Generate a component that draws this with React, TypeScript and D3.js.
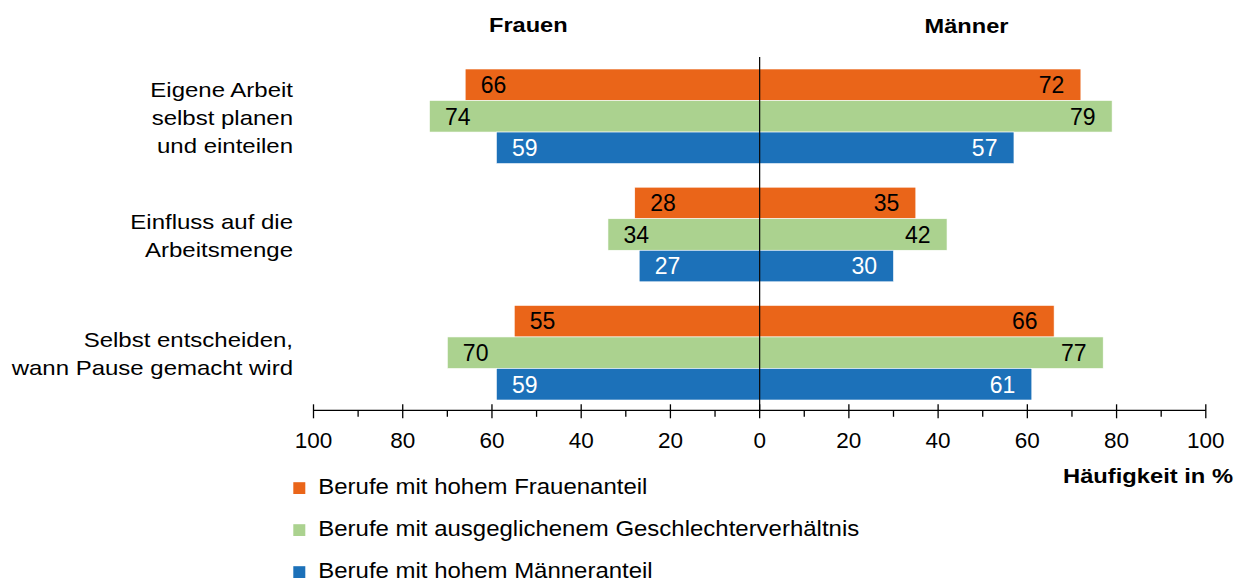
import React from "react";
import * as d3 from "d3";

const categories = [
  ["Eigene Arbeit", "selbst planen", "und einteilen"],
  ["Einfluss auf die", "Arbeitsmenge"],
  ["Selbst entscheiden,", "wann Pause gemacht wird"],
];
const seriesNames = [
  "Berufe mit hohem Frauenanteil",
  "Berufe mit ausgeglichenem Geschlechterverhältnis",
  "Berufe mit hohem Männeranteil",
];
// values per category: [orange, green, blue]
const frauen = [
  [66, 74, 59],
  [28, 34, 27],
  [55, 70, 59],
];
const maenner = [
  [72, 79, 57],
  [35, 42, 30],
  [66, 77, 61],
];
const tickLabels = ["100", "80", "60", "40", "20", "0", "20", "40", "60", "80", "100"];

const colors = ["#EA6519", "#ABD28F", "#1C71B9"];
const labelColors = ["#000", "#000", "#fff"];
const FONT = "'Liberation Sans', Arial, Helvetica, sans-serif";

function SText(props: {
  x: number; y: number; sx: number; size: number; anchor?: string; bold?: boolean; fill?: string; children: React.ReactNode;
}) {
  const { x, y, sx, size, anchor = "start", bold = false, fill = "#000", children } = props;
  return (
    <g transform={`translate(${x},${y}) scale(${sx},1)`}>
      <text x={0} y={0} textAnchor={anchor} fontSize={size} fontWeight={bold ? "bold" : "normal"} fill={fill}>
        {children}
      </text>
    </g>
  );
}

export default function App() {
  const W = 1236, H = 583;
  const x = d3.scaleLinear().domain([-100, 100]).range([313.5, 1205.8]);
  const yGroup = d3.scaleBand<number>().domain([0, 1, 2]).range([69, 400]).paddingInner(0.2).paddingOuter(0);
  const axisY = 410.3;
  const minorTicks = d3.range(-90, 100, 20);
  const majorTicks = d3.range(-100, 101, 20);

  const bars: React.ReactNode[] = [];
  categories.forEach((_cat, ci) => {
    const g0 = yGroup(ci)!;
    const bh = yGroup.bandwidth() / 3;
    for (let si = 0; si < 3; si++) {
      const y0 = g0 + si * bh;
      const fv = frauen[ci][si];
      const mv = maenner[ci][si];
      bars.push(
        <rect key={`f${ci}${si}`} x={x(-fv)} y={y0} width={x(0) - x(-fv)} height={bh}
          fill={colors[si]} stroke="#fff" strokeWidth={0.6} />
      );
      bars.push(
        <rect key={`m${ci}${si}`} x={x(0)} y={y0} width={x(mv) - x(0)} height={bh}
          fill={colors[si]} stroke="#fff" strokeWidth={0.6} />
      );
      bars.push(
        <text key={`ft${ci}${si}`} x={x(-fv) + 15.5} y={y0 + bh / 2} dy="0.36em"
          fontSize={23} fill={labelColors[si]}>{fv}</text>
      );
      bars.push(
        <text key={`mt${ci}${si}`} x={x(mv) - 16.5} y={y0 + bh / 2} dy="0.36em" textAnchor="end"
          fontSize={23} fill={labelColors[si]}>{mv}</text>
      );
    }
  });

  return (
    <svg width={W} height={H} style={{ position: "absolute", left: 0, top: 0, display: "block" }}
      fontFamily={FONT}>
      <rect width={W} height={H} fill="#fff" />
      <SText x={528.3} y={31.5} sx={1.18} size={20} anchor="middle" bold>Frauen</SText>
      <SText x={966.5} y={32.5} sx={1.18} size={20} anchor="middle" bold>Männer</SText>

      {categories.map((cat, ci) => {
        const mid = yGroup(ci)! + yGroup.bandwidth() / 2;
        const lh = 28;
        return cat.map((line, li) => (
          <SText key={`c${ci}${li}`} x={293} y={mid + (li - (cat.length - 1) / 2) * lh + 8.5}
            sx={1.2} size={20} anchor="end">{line}</SText>
        ));
      })}

      {bars}

      <line x1={x(0)} x2={x(0)} y1={57} y2={axisY} stroke="#000" strokeWidth={1.2} />

      <line x1={x(-100)} x2={x(100)} y1={axisY} y2={axisY} stroke="#000" strokeWidth={1.3} />
      {majorTicks.map((t) => (
        <line key={`M${t}`} x1={x(t)} x2={x(t)} y1={axisY - 6} y2={axisY + 8} stroke="#000" strokeWidth={1.3} />
      ))}
      {minorTicks.map((t) => (
        <line key={`m${t}`} x1={x(t)} x2={x(t)} y1={axisY} y2={axisY + 6.5} stroke="#000" strokeWidth={1.3} />
      ))}
      {majorTicks.map((t, i) => (
        <text key={`tl${t}`} x={x(t)} y={448} textAnchor="middle" fontSize={22.5}>{tickLabels[i]}</text>
      ))}

      <SText x={1233} y={483.3} sx={1.13} size={21} anchor="end" bold>Häufigkeit in %</SText>

      {seriesNames.map((s, i) => (
        <g key={`lg${i}`}>
          <rect x={293.3} y={494 + i * 42 - 11.8} width={12} height={11.8} fill={colors[i]} />
          <SText x={318.3} y={494 + i * 42} sx={1.09} size={22}>{s}</SText>
        </g>
      ))}
    </svg>
  );
}
